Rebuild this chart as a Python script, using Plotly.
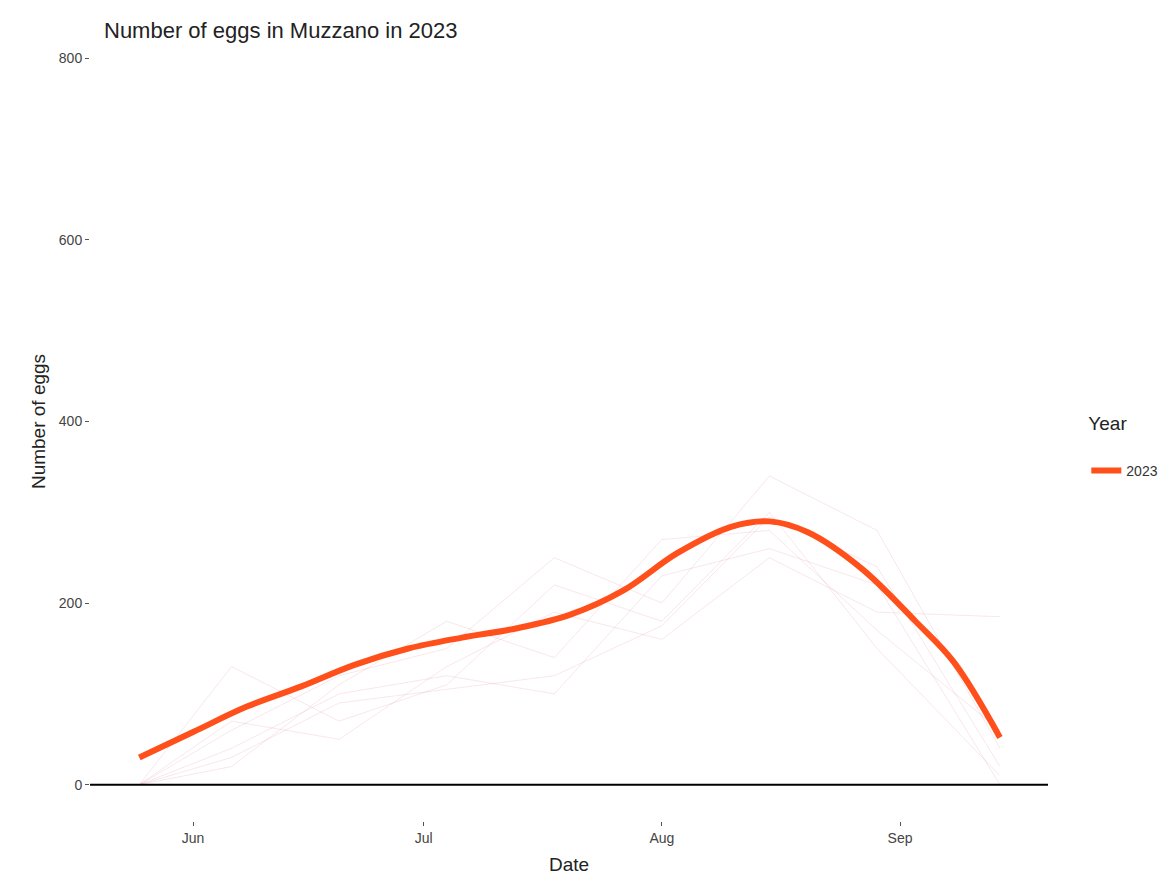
import plotly.graph_objects as go

# Smoothed trend
smooth_dates = ["2023-05-25", "2023-06-01", "2023-06-08", "2023-06-15", "2023-06-22",
                "2023-06-29", "2023-07-06", "2023-07-13", "2023-07-20", "2023-07-27",
                "2023-08-03", "2023-08-10", "2023-08-15", "2023-08-20", "2023-08-27",
                "2023-09-03", "2023-09-08", "2023-09-14"]
smooth_eggs = [30, 58, 86, 108, 132, 150, 162, 172, 187, 214, 255, 284, 290, 278, 238,
               180, 135, 52]

# Individual traps (faint lines)
trap_dates = ["2023-05-25", "2023-06-06", "2023-06-20", "2023-07-04", "2023-07-18",
              "2023-08-01", "2023-08-15", "2023-08-29", "2023-09-14"]
trap_a = [0, 130, 70, 110, 220, 180, 300, 150, 10]
trap_b = [0, 60, 120, 150, 250, 200, 340, 280, 40]
trap_c = [0, 40, 100, 120, 100, 230, 260, 220, 0]
trap_d = [0, 20, 110, 180, 140, 270, 280, 170, 60]
trap_e = [0, 70, 50, 130, 190, 160, 250, 190, 185]
trap_f = [0, 30, 90, 105, 120, 175, 295, 240, 20]
traps = [trap_a, trap_b, trap_c, trap_d, trap_e, trap_f]

tick_dates = ["2023-06-01", "2023-07-01", "2023-08-01", "2023-09-01"]
tick_labels = ["Jun", "Jul", "Aug", "Sep"]
y_ticks = [0, 200, 400, 600, 800]

fig = go.Figure()
for t in traps:
    fig.add_trace(go.Scatter(x=trap_dates, y=t, mode="lines",
                             line=dict(color="rgba(215,110,150,0.17)", width=1),
                             showlegend=False, hoverinfo="skip"))

fig.add_trace(go.Scatter(x=smooth_dates, y=smooth_eggs, mode="lines", name="2023",
                         line=dict(color="#FF4F1A", width=6, shape="spline", smoothing=1.0)))

fig.add_hline(y=0, line=dict(color="black", width=2))

font_family = "Liberation Sans, Arial, sans-serif"
fig.update_layout(
    width=1170, height=875,
    paper_bgcolor="white", plot_bgcolor="white",
    margin=dict(l=82, r=130, t=14, b=62),
    font=dict(family=font_family, color="#333333"),
    title=dict(text="Number of eggs in Muzzano in 2023", x=96/1170, xanchor="left",
               y=1 - 22/875, yanchor="middle", yref="container",
               font=dict(size=22, color="#222222")),
    xaxis=dict(range=["2023-05-18 14:00", "2023-09-20 06:00"],
               tickvals=tick_dates, ticktext=tick_labels,
               showgrid=False, zeroline=False, showline=False,
               ticks="outside", ticklen=4, tickcolor="#555555",
               tickfont=dict(size=14, color="#444444"),
               title=dict(text="Date", font=dict(size=19, color="#222222"), standoff=12)),
    yaxis=dict(range=[-40, 840], tickvals=y_ticks,
               showgrid=False, zeroline=False, showline=False,
               ticks="outside", ticklen=4, tickcolor="#555555",
               tickfont=dict(size=14, color="#444444"),
               title=dict(text="Number of eggs", font=dict(size=19, color="#222222"), standoff=8)),
    legend=dict(x=1.04, y=0.52, xanchor="left", yanchor="top", itemwidth=30,
                title=dict(text="Year<br><span style='font-size:1px'> </span>",
                           font=dict(size=19, color="#222222")),
                font=dict(size=14, color="#333333"), bgcolor="rgba(0,0,0,0)"),
)

fig.write_html("out.html")
